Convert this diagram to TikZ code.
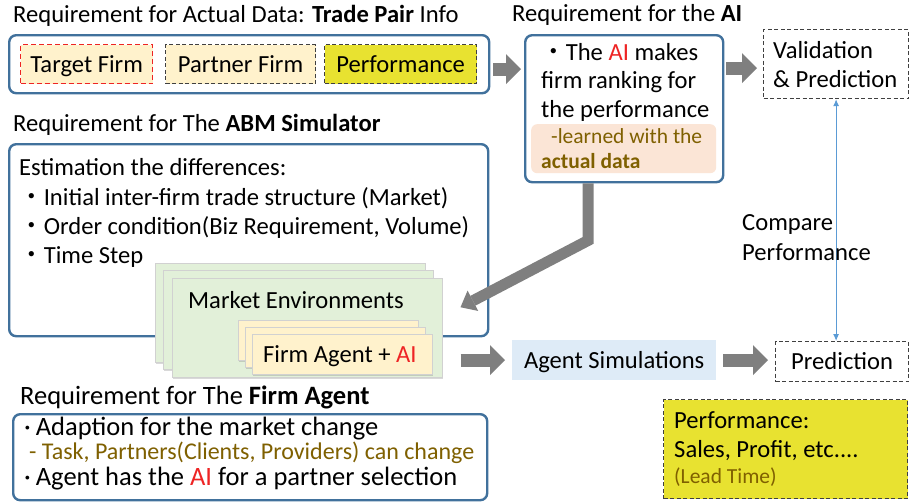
\documentclass[tikz,border=0pt]{standalone}
\usepackage{fontspec}
\setmainfont{Carlito}
\newfontfamily\jpfont{Noto Sans CJK JP}
\usetikzlibrary{arrows.meta,shadows,calc}

\definecolor{reqblue}{RGB}{65,113,156}
\definecolor{paletan}{RGB}{255,242,204}
\definecolor{perfyellow}{RGB}{232,226,48}
\definecolor{peach}{RGB}{251,229,214}
\definecolor{ocher}{RGB}{127,96,0}
\definecolor{aired}{RGB}{238,36,36}
\definecolor{arrowgray}{RGB}{127,127,127}
\definecolor{envgreen}{RGB}{226,240,217}
\definecolor{simblue}{RGB}{222,235,247}
\definecolor{cmpblue}{RGB}{91,155,213}

\newcommand{\fsize}[1]{\fontsize{#1}{#1}\selectfont}
\newcommand{\AI}{\textcolor{aired}{AI}}
\newcommand{\jdot}{{\jpfont ・}}

\begin{document}
\begin{tikzpicture}[
  x=1pt, y=-1pt,
  >={Latex[length=7pt,width=6pt]},
  txt/.style={anchor=base west, inner sep=0pt, font=\fsize{24.6}},
  small/.style={txt, font=\fsize{21.5}, text=ocher},
  reqbox/.style={draw=reqblue, line width=2.4pt, rounded corners=7pt, fill=white, anchor=north west, inner sep=0pt},
  dashbox/.style={draw=black!75, dash pattern=on 4pt off 2.5pt, line width=1.2pt, anchor=north west, inner sep=0pt},
  item/.style={dashbox, fill=paletan, minimum height=39pt, font=\fsize{24.6}, text height=15.8pt, text depth=0pt},
  page/.style={draw=black!18, line width=0.5pt, anchor=north west, inner sep=0pt,
    drop shadow={shadow xshift=1pt, shadow yshift=-1.5pt, opacity=.25, fill=black!60}},
  envpage/.style={page, fill=envgreen, minimum width=270pt, minimum height=99pt},
  agentpage/.style={page, fill=paletan, minimum width=180pt, minimum height=40pt},
  fatarrow/.style={draw=arrowgray, line width=13pt, -{Triangle[width=30pt,length=15pt,line width=0pt]}, shorten <=3pt, shorten >=3pt},
  bentflow/.style={draw=arrowgray, line width=11pt, -{Triangle[width=23pt,length=14pt,line width=0pt]}},
  cmpflow/.style={<->, cmpblue, line width=1pt},
]
\useasboundingbox (0,0) rectangle (912,501);

% ---- actual data
\node[txt] (tradettl) at (13,22) {Requirement for Actual Data: \textbf{Trade Pair} Info};
\node[reqbox, minimum width=480pt, minimum height=58pt] (trade) at (8,34) {};
\node[item, draw=aired, line width=1.4pt, dash pattern=on 5pt off 3pt, minimum width=132pt] (target) at (20,44) {Target Firm};
\node[item, minimum width=150pt] (partner) at (165,44) {Partner Firm};
\node[item, fill=perfyellow, minimum width=152pt] (perf) at (324,44) {Performance};

% ---- the AI
\node[txt] (aittl) at (512,21) {Requirement for the \textbf{AI}};
\node[reqbox, minimum width=198pt, minimum height=147pt] (ai) at (524,34) {};
\node[txt] (ai1) at (541,60) {\jdot The \AI\ makes};
\node[txt] (ai2) at (541,88) {firm ranking for};
\node[txt] (ai3) at (541,117) {the performance};
\node[fill=peach, rounded corners=6pt, minimum width=185pt, minimum height=49pt, anchor=north west, inner sep=0pt] (learn) at (531,124) {};
\node[small] (learn1) at (551,143) {-learned with the};
\node[small, font=\fsize{21.5}\bfseries] (learn2) at (541,168) {actual data};

% ---- validation
\node[dashbox, minimum width=145pt, minimum height=69pt] (valid) at (763,29) {};
\node[txt] (valid1) at (773,58) {Validation};
\node[txt] (valid2) at (773,87) {\& Prediction};

% ---- ABM simulator
\node[txt] (abmttl) at (13,131) {Requirement for The \textbf{ABM Simulator}};
\node[reqbox, minimum width=479pt, minimum height=192pt] (abm) at (8,143) {};
\node[txt] (abm1) at (19,175) {Estimation the differences:};
\node[txt] (abm2) at (19,205) {\jdot Initial inter-firm trade structure (Market)};
\node[txt] (abm3) at (19,234) {\jdot Order condition(Biz Requirement, Volume)};
\node[txt] (abm4) at (19,263) {\jdot Time Step};

% ---- market environments with firm agents
\node[envpage] (env0) at (155,263) {};
\node[envpage] (env1) at (163,270) {};
\node[envpage] (env2) at (172,278) {};
\node[txt] (envttl) at (188,308) {Market Environments};
\node[agentpage] (agent0) at (238,320) {};
\node[agentpage] (agent1) at (245,327) {};
\node[agentpage] (agent2) at (252,334) {};
\node[txt] (agentttl) at (263,362) {Firm Agent + \AI};

% ---- simulation and prediction
\node[fill=simblue, minimum width=204pt, minimum height=40pt, anchor=north west, inner sep=0pt,
  font=\fsize{24.6}, text height=15.8pt, text depth=0pt] (sim) at (512,340) {Agent Simulations};
\node[dashbox, minimum width=133pt, minimum height=40pt, font=\fsize{24.6}, text height=15.8pt, text depth=0pt] (pred) at (775,341) {Prediction};

% ---- performance
\node[dashbox, fill=perfyellow, minimum width=244pt, minimum height=99pt] (perfbox) at (663,399) {};
\node[txt] (perf1) at (674,428) {Performance:};
\node[txt] (perf2) at (674,457) {Sales, Profit, etc....};
\node[small] (perf3) at (674,483) {(Lead Time)};

% ---- firm agent
\node[txt, font=\fsize{26.5}] (firmttl) at (20,404) {Requirement for The \textbf{Firm Agent}};
\node[reqbox, minimum width=474pt, minimum height=86pt] (firm) at (12,413) {};
\node[txt, font=\fsize{26.5}] (firm1) at (24,435) {·\hspace{5pt}Adaption for the market change};
\node[small, font=\fsize{24}] (firm2) at (29,459) {- Task, Partners(Clients, Providers) can change};
\node[txt, font=\fsize{26.5}] (firm3) at (24,485) {·\hspace{5pt}Agent has the \AI\ for a partner selection};

% ---- connectors
\draw[fatarrow] ([yshift=-5]trade.east) -- ([yshift=-5]trade.east -| ai.west);
\draw[fatarrow, shorten <=2pt, shorten >=6pt] ([yshift=-4]valid.west -| ai.east) -- ([yshift=-4]valid.west);
\coordinate (bend) at ($(ai.south)+(-36,57)$);
\draw[bentflow] ([xshift=-36]ai.south) -- (bend) -- ($(env2.east)+(18,-20.5)$);
\draw[fatarrow, shorten <=18pt, shorten >=7pt] (sim.west -| env2.east) -- (sim.west);
\draw[fatarrow, shorten <=7pt, shorten >=7pt] (sim.east) -- (sim.east -| pred.west);
\draw[cmpflow] (valid.south) -- (valid.south |- pred.north);
\node[txt] (cmp1) at (742,230) {Compare};
\node[txt] (cmp2) at (742,260) {Performance};
\end{tikzpicture}
\end{document}
